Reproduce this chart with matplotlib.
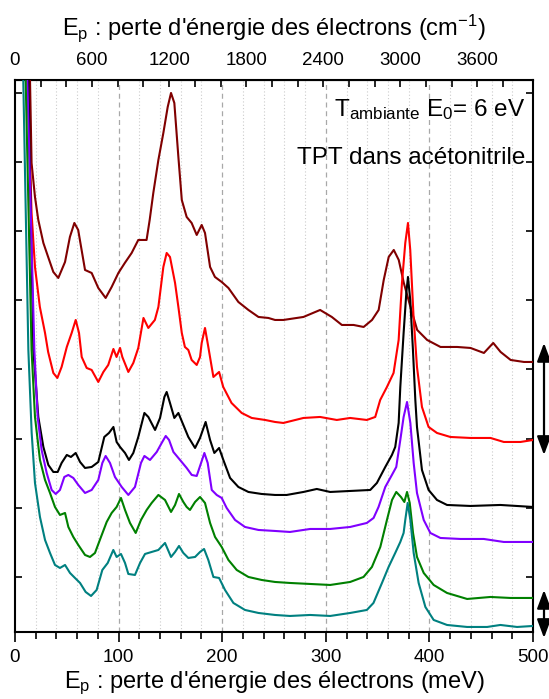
import numpy as np
import matplotlib.pyplot as plt
from matplotlib.ticker import MultipleLocator, FixedLocator

plt.rcParams['font.family'] = ['Liberation Sans', 'DejaVu Sans']
plt.rcParams['mathtext.fontset'] = 'custom'
plt.rcParams['mathtext.rm'] = 'Liberation Sans'
plt.rcParams['mathtext.it'] = 'Liberation Sans:italic'

# energy loss (meV) and intensity (arb. units, offset curves)
x_darkred = [13.6, 14.5, 16, 19.3, 22.5, 27.4, 32, 37, 41.8, 48.3, 53, 57.3, 61, 67.6, 74, 80.4, 87.5, 93.3,
             99.8, 106, 112.6, 119, 127, 130, 133.5, 138.4, 143.2, 147.4, 150.6, 153.8, 157.7, 161, 165.7,
             170.5, 175.4, 180.2, 183.4, 188.3, 193, 199.5, 206, 215.6, 225.3, 235, 244.6, 251, 259, 278.4,
             294.5, 305.8, 315.5, 326.8, 336.5, 344.6, 351, 355.9, 360.7, 365.6, 370.4, 375.3, 381.7, 388.2,
             397.8, 410.7, 426.8, 439.7, 452.6, 461.6, 468.7, 478.4, 491.3, 500]
y_darkred = [600, 552, 469, 435, 412, 389, 375, 360, 354, 370, 395, 409, 402, 362, 359, 344, 334, 345,
             359, 369, 379, 392, 392, 412, 439, 472, 499, 525, 539, 529, 475, 432, 415,
             409, 397, 407, 399, 365, 355, 350, 344, 330, 322, 315, 314, 312, 312, 315,
             322, 315, 307, 307, 305, 312, 322, 352, 375, 382, 372, 349, 325, 302,
             292, 285, 285, 284, 279, 289, 280, 272, 270, 270]

x_red = [11.3, 12.2, 16, 19.3, 24, 29, 32, 37, 40.9, 45, 50, 54.7, 58.6, 61.8, 64.4, 69.2, 74, 80.4, 85.3,
         90, 95, 98, 101.4, 103.6, 109.4, 114.2, 119, 124, 128.7, 135, 138.4, 143.2, 146.4, 149.6, 154.5,
         157.7, 161, 164, 167.3, 170.5, 175.4, 178.6, 180.2, 183.4, 186.6, 191.5, 197, 201, 209, 218.8,
         228.5, 241.4, 251, 259, 278.4, 294.5, 310.6, 323.5, 339.6, 347.7, 352.5, 359, 365.4, 370.3, 373.5,
         376.7, 379.3, 381.5, 384.7, 388, 392.8, 399.2, 407.3, 420.2, 439.6, 459, 471.8, 487.9, 500]
y_red = [600, 552, 419, 365, 325, 299, 280, 259, 254, 265, 285, 299, 312, 299, 275, 264, 262, 250, 260,
         267, 283, 275, 284, 275, 260, 269, 284, 314, 304, 312, 325, 365, 379, 375, 349,
         325, 299, 285, 282, 272, 267, 275, 289, 304, 285, 255, 260, 245, 229, 219,
         214, 212, 210, 209, 214, 215, 212, 214, 212, 215, 232, 245, 259, 292, 349,
         389, 409, 382, 315, 265, 225, 205, 199, 195, 194, 194, 190, 190, 192]

x_black = [12, 12.9, 17.7, 22.5, 27.4, 32.2, 37, 41.2, 45, 50, 54, 58.6, 62.8, 67.6, 74, 80.4, 86.2, 90.7,
           95, 98.1, 101.4, 106.2, 110, 114.2, 119, 124.9, 128.7, 135.2, 140, 144.2, 146.4, 149.6, 153.8,
           157.7, 162.5, 167.3, 173.8, 178.6, 184, 188.3, 192.4, 197, 201.1, 207.6, 215.6, 225.3, 238, 251,
           262.2, 278.4, 291.3, 304.2, 323.5, 342.9, 349.3, 357.4, 363.8, 367, 370.3, 371.9, 375.1, 377.7,
           379.3, 381.5, 384.1, 386.4, 388, 392.8, 399.2, 407.3, 417, 439.6, 468.5, 500]
y_black = [600, 552, 282, 215, 185, 167, 160, 160, 169, 177, 175, 179, 170, 164, 165, 170, 195, 199,
           205, 190, 185, 179, 172, 179, 195, 219, 215, 202, 214, 235, 240, 229, 214,
           219, 207, 195, 184, 194, 210, 192, 179, 184, 172, 154, 145, 140, 138, 137,
           137, 140, 143, 140, 141, 142, 149, 165, 177, 185, 209, 245, 299, 339,
           355, 332, 282, 232, 205, 162, 142, 132, 127, 126, 127, 125]

x_violet = [11, 11.9, 18.7, 21.9, 25.7, 30.6, 35.4, 39.3, 43.4, 47.6, 51.5, 56.3, 61.1, 67.6, 74, 80.4, 84.3,
            87.5, 91.7, 96.5, 103, 109.4, 115.8, 121.6, 124.9, 130.3, 136.8, 141.6, 145.5, 148.7, 152.9,
            159.3, 165.7, 170.6, 175.4, 179.6, 182.8, 186, 189.9, 194.7, 199.5, 204.3, 212.4, 222, 235, 251,
            265.4, 284.9, 304.2, 323.5, 339.6, 346.1, 350.9, 357.4, 363.8, 368, 371.9, 375.1, 378.4, 381.6,
            384.8, 388, 394.5, 400.9, 410.6, 429.9, 452.5, 471.8, 500]
y_violet = [600, 552, 282, 215, 182, 159, 142, 138, 142, 155, 157, 154, 147, 139, 142, 152, 169,
            176, 169, 155, 145, 137, 145, 169, 176, 172, 180, 189, 196, 192, 180,
            172, 164, 157, 156, 169, 179, 169, 142, 137, 134, 124, 112, 105, 102, 101,
            100, 103, 103, 105, 109, 114, 125, 145, 157, 165, 192, 215, 230, 209,
            169, 139, 112, 99, 94, 93, 93, 90, 90]

x_green = [9.5, 10.3, 16, 19.3, 24.1, 29, 33.8, 38.6, 43.4, 48.3, 51.5, 56.3, 61.1, 67.6, 72.4, 77.2, 83,
           88.5, 93.3, 98.1, 102.3, 106.2, 111, 116.5, 121.6, 127.1, 131.9, 138.4, 144.8, 150.6, 154.5,
           158.3, 162.5, 165.7, 168.9, 173.8, 178.6, 183.4, 188.3, 193.1, 199.5, 206, 214, 225.3, 238.1, 251,
           265.4, 284.9, 304.2, 323.5, 336.4, 344.5, 352.6, 359, 363.9, 368, 372.5, 375.8, 378.4, 381,
           384.2, 388, 394.5, 404.1, 417, 436.4, 458.9, 478.3, 500]
y_green = [600, 552, 282, 215, 172, 152, 139, 125, 117, 119, 105, 95, 87, 77, 75, 79, 95,
           110, 119, 125, 134, 122, 109, 99, 112, 122, 129, 137, 132, 120, 127,
           138, 130, 125, 122, 130, 135, 129, 109, 95, 85, 72, 62, 55, 52, 50,
           49, 48, 47, 50, 55, 65, 85, 112, 132, 140, 135, 130, 140, 129,
           99, 75, 59, 47, 39, 33, 35, 34, 34]

x_teal = [7.0, 8.0, 12.9, 16.1, 19.3, 24.1, 29, 33.8, 38.6, 43.4, 48.3, 53.1, 57.9, 62.8, 68.2, 73.4, 78.8,
          84.3, 89.5, 94.9, 98.1, 102.3, 106.2, 109.4, 115.8, 120.7, 125.5, 131.9, 138.4, 144.8, 150.6,
          154.5, 158.3, 162.5, 167.3, 173.8, 178.6, 182.5, 186.6, 191.5, 197, 202.7, 210.8, 222, 235, 251,
          265.4, 284.9, 304.2, 323.5, 339.6, 346, 354.2, 360.6, 367, 371.9, 375.1, 376.7, 379, 381.6,
          384.8, 389.6, 396.1, 404.1, 417, 436.4, 455.7, 468.5, 484.6, 500]
y_teal = [600, 552, 282, 199, 149, 115, 92, 79, 67, 64, 67, 59, 54, 49, 40, 36, 42,
          62, 69, 82, 75, 78, 69, 58, 57, 69, 78, 80, 82, 89, 75,
          80, 86, 79, 74, 75, 80, 83, 72, 55, 54, 42, 29, 22, 19, 17,
          16, 17, 16, 19, 22, 29, 49, 65, 79, 90, 99, 112, 129, 112,
          79, 49, 25, 12, 7, 5, 5, 7, 5, 6]

cm_ticks = [0, 600, 1200, 1800, 2400, 3000, 3600]

series = [(x_darkred, y_darkred, '#800000'), (x_red, y_red, '#ff0000'),
          (x_black, y_black, '#000000'), (x_violet, y_violet, '#8000ff'),
          (x_green, y_green, '#008000'), (x_teal, y_teal, '#008080')]

fig = plt.figure(figsize=(5.49, 6.99), dpi=100)
ax = fig.add_axes([0.0273, 0.0959, 0.9436, 0.7897])

for xx, yy, c in series:
    ax.plot(xx, yy, color=c, lw=1.5, zorder=3)

ax.set_xlim(0, 500)
ax.set_ylim(0, 552)

# vertical grid
for v in np.arange(20, 500, 20):
    if v % 100 == 0:
        ax.axvline(v, color='#a8a8a8', lw=0.9, ls=(0, (4, 3)), zorder=1)
    else:
        ax.axvline(v, color='#cccccc', lw=0.8, ls=(0, (1, 2)), zorder=1)

ax.xaxis.set_major_locator(MultipleLocator(100))
ax.xaxis.set_minor_locator(MultipleLocator(20))
ax.tick_params(axis='x', which='major', direction='out', length=7, width=1.2, labelsize=13.5, pad=5)
ax.tick_params(axis='x', which='minor', direction='out', length=5, width=1.2)
ax.yaxis.set_major_locator(FixedLocator(np.arange(55, 552, 69.2)))
ax.tick_params(axis='y', which='major', direction='in', length=5, width=1.2,
               left=True, right=True, labelleft=False)
for s in ax.spines.values():
    s.set_linewidth(1.5)

ax.set_xlabel(r"E$_{\rm p}$ : perte d'énergie des électrons (meV)", fontsize=17, labelpad=3)

k = 8.0655
top = ax.secondary_xaxis('top', functions=(lambda e: e * k, lambda w: w / k))
top.xaxis.set_major_locator(FixedLocator(cm_ticks))
top.xaxis.set_minor_locator(FixedLocator(np.arange(200, 4000, 200)))
top.tick_params(which='major', direction='in', length=5, width=1.2, labelsize=13.5, pad=8)
top.tick_params(which='minor', direction='in', length=5, width=1.2)
top.set_xlabel(r"E$_{\rm p}$ : perte d'énergie des électrons (cm$^{-1}$)", fontsize=17, labelpad=12)

ax.text(0.985, 0.935, r"T$_{\rm ambiante}$ E$_0$= 6 eV", transform=ax.transAxes,
        ha='right', va='baseline', fontsize=17.5)
ax.text(0.985, 0.848, "TPT dans acétonitrile", transform=ax.transAxes,
        ha='right', va='baseline', fontsize=17.5)

# scale arrows at the right
for y0, y1 in [(177, 289), (-6, 42)]:
    ax.annotate('', xy=(510.6, y1), xytext=(510.6, y0), xycoords='data',
                arrowprops=dict(arrowstyle='<|-|>,head_length=0.8,head_width=0.3',
                                color='black', lw=1.6, mutation_scale=14, shrinkA=0, shrinkB=0),
                annotation_clip=False)

fig.savefig('out.png', dpi=100)
